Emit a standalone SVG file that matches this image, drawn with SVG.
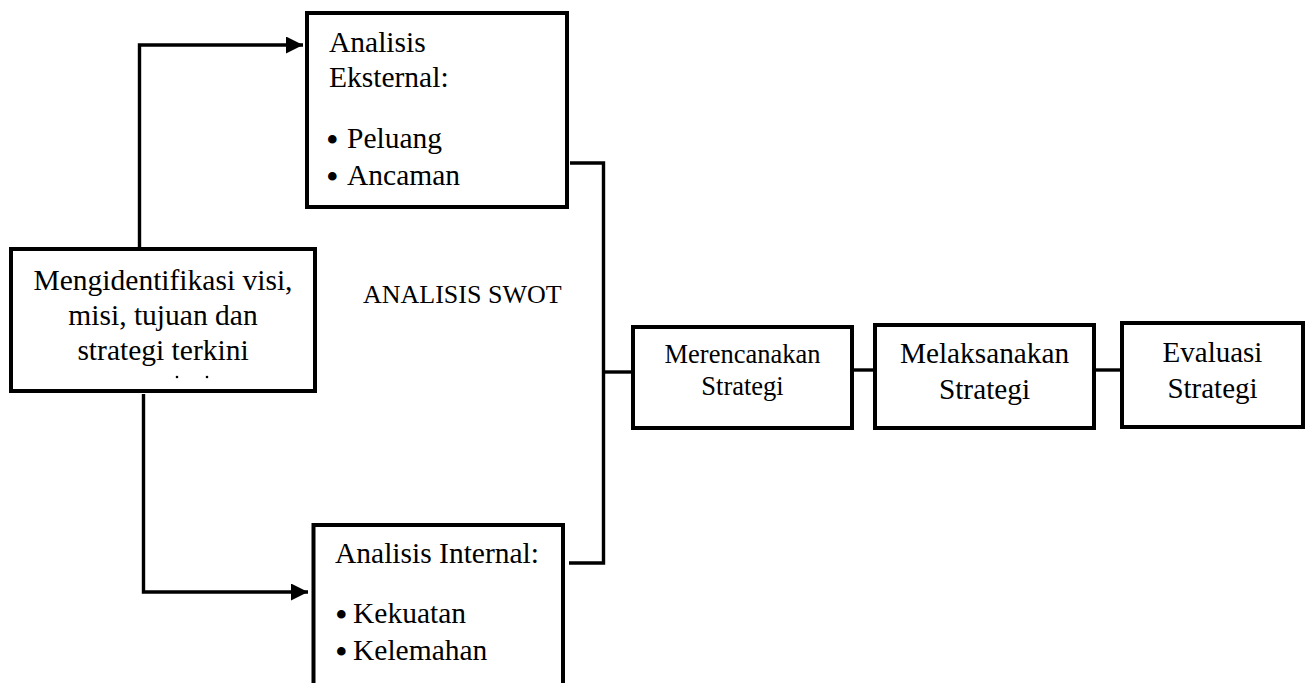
<svg xmlns="http://www.w3.org/2000/svg" width="1309" height="683" viewBox="0 0 1309 683">
<style>
.box{fill:#fff;stroke:#000;stroke-width:4}
.ln{fill:none;stroke:#000;stroke-width:3.4}
text{font-family:"Liberation Serif","Times New Roman",serif;fill:#000}
.c{text-anchor:middle}
.t{font-size:29.5px}
.b{font-size:36px}
</style>
<defs>
<marker id="ah" markerUnits="userSpaceOnUse" markerWidth="19" markerHeight="18" refX="17" refY="8.5" orient="auto">
<path d="M0,0 L17,8.5 L0,17 Z" fill="#000"/>
</marker>
</defs>
<rect width="1309" height="683" fill="#fff"/>
<g id="connectors">
<polyline class="ln" points="139.5,248 139.5,45 303,45" marker-end="url(#ah)"/>
<polyline class="ln" points="143.5,394 143.5,592 308,592" marker-end="url(#ah)"/>
<polyline class="ln" points="570,163 603.5,163 603.5,563 569,563"/>
<line class="ln" x1="603.5" y1="372" x2="633" y2="372"/>
<line class="ln" x1="852" y1="370" x2="875" y2="370"/>
<line class="ln" x1="1094" y1="370" x2="1122" y2="370"/>
</g>
<g id="n_visi">
<rect class="box" x="11" y="249" width="304" height="142"/>
<text class="c t" x="163" y="290">Mengidentifikasi visi,</text>
<text class="c t" x="163" y="325">misi, tujuan dan</text>
<text class="c t" x="163" y="360">strategi terkini</text>
<circle cx="177" cy="377" r="1.3" fill="#000"/>
<circle cx="207" cy="377" r="1.3" fill="#000"/>
</g>
<g id="n_eksternal">
<rect class="box" x="307" y="13" width="260" height="194"/>
<text class="t" x="329" y="52">Analisis</text>
<text class="t" x="329" y="87">Eksternal:</text>
<text class="b" x="326" y="152">•</text>
<text class="t" x="347" y="148">Peluang</text>
<text class="b" x="326" y="189">•</text>
<text class="t" x="347" y="185">Ancaman</text>
</g>
<g id="n_internal">
<rect class="box" x="313.5" y="525" width="249.5" height="175"/>
<text class="t" x="335" y="563">Analisis Internal:</text>
<text class="b" x="335" y="627">•</text>
<text class="t" x="353" y="623">Kekuatan</text>
<text class="b" x="335" y="664">•</text>
<text class="t" x="353" y="660">Kelemahan</text>
</g>
<g id="label_swot">
<text x="363" y="303" font-size="26">ANALISIS SWOT</text>
</g>
<g id="n_merencanakan">
<rect class="box" x="633" y="327" width="219" height="101"/>
<text class="c" x="742.5" y="363" font-size="26.5">Merencanakan</text>
<text class="c" x="742.5" y="395" font-size="26.5">Strategi</text>
</g>
<g id="n_melaksanakan">
<rect class="box" x="875" y="325" width="219" height="103"/>
<text class="c" x="984.5" y="363" font-size="29.3">Melaksanakan</text>
<text class="c" x="984.5" y="399" font-size="29.3">Strategi</text>
</g>
<g id="n_evaluasi">
<rect class="box" x="1122" y="323" width="181" height="104"/>
<text class="c" x="1212.5" y="362" font-size="29">Evaluasi</text>
<text class="c" x="1212.5" y="398" font-size="29">Strategi</text>
</g>
</svg>
